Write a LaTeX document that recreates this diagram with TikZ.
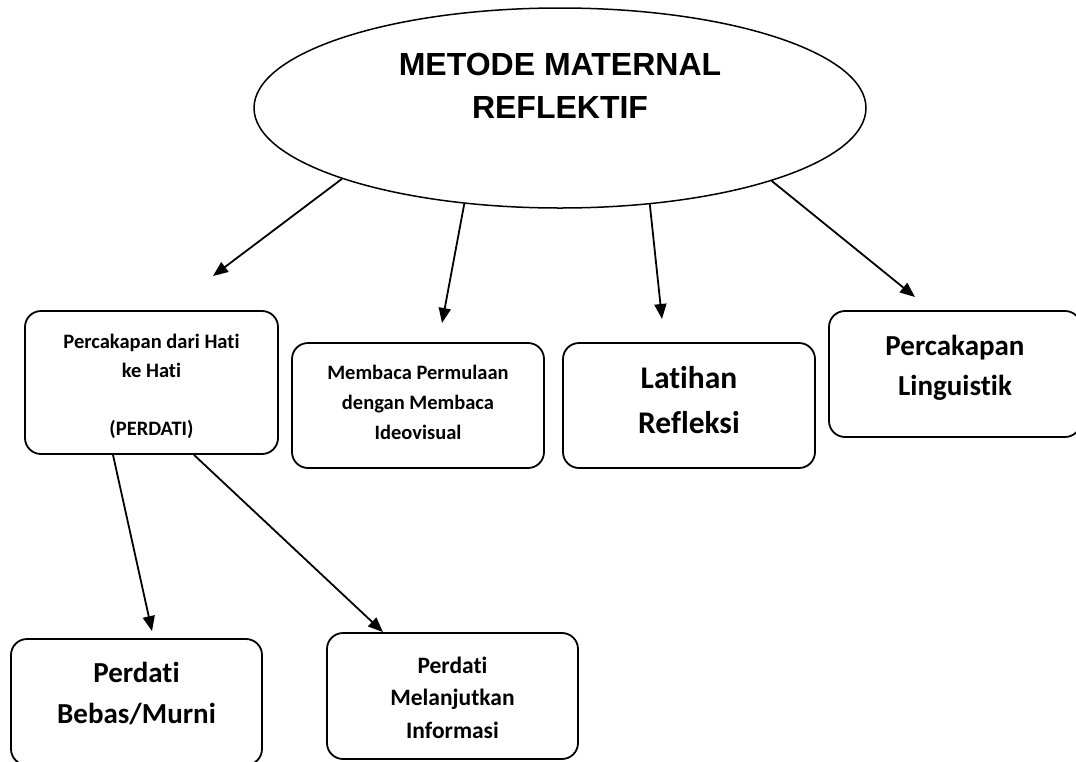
\documentclass[tikz,border=0pt]{standalone}
\usepackage{fontspec}
\setmainfont{Carlito}[Ligatures={TeX,NoCommon}]
\newfontfamily\arialfont{Liberation Sans}
\usetikzlibrary{shapes.geometric,arrows.meta,calc}
\newcommand{\botstrut}[1]{\rule[-#1]{0pt}{0pt}}
\newcommand{\topstrut}[1]{\rule{0pt}{#1}}
\begin{document}
\begin{tikzpicture}[x=1pt,y=-1pt,
  box/.style={draw, line width=1.8pt, rounded corners=16pt, align=center, inner sep=0pt},
  arr/.style={line width=1.8pt, -{Triangle[length=15pt,width=12pt]}}]
\useasboundingbox (0,0) rectangle (1076,761);
% central ellipse
\node[ellipse, draw, line width=1.5pt, minimum width=612pt, minimum height=200pt, inner sep=0pt] (mm) at (560,108) {};
\node[font=\arialfont\bfseries\fontsize{32}{43}\selectfont, align=center, inner sep=0pt] (mmt) at (560,86) {\topstrut{29pt}METODE MATERNAL\\REFLEKTIF\botstrut{8pt}};
% boxes
\node[box, minimum width=253pt, minimum height=143pt, font=\bfseries\fontsize{20.5}{29}\selectfont] (b1) at (151.5,382.5) {\topstrut{28pt}Percakapan dari Hati\\ke Hati\\[29pt](PERDATI)\botstrut{10pt}};
\node[box, minimum width=252pt, minimum height=125pt, font=\bfseries\fontsize{20.5}{30}\selectfont] (b2) at (418,405.5) {\topstrut{17pt}Membaca Permulaan\\dengan Membaca\\Ideovisual\botstrut{10pt}};
\node[box, minimum width=252pt, minimum height=125pt, font=\bfseries\fontsize{31.5}{45}\selectfont] (b3) at (689,405.5) {\topstrut{24pt}Latihan\\Refleksi\botstrut{14pt}};
\node[box, minimum width=252pt, minimum height=126pt, font=\bfseries\fontsize{29}{40}\selectfont] (b4) at (955,374) {\topstrut{26pt}Percakapan\\Linguistik\botstrut{24pt}};
\node[box, minimum width=251pt, minimum height=126pt, font=\bfseries\fontsize{29}{41}\selectfont] (b5) at (136.5,702) {\topstrut{25pt}Perdati\\Bebas/Murni\botstrut{24pt}};
\node[box, minimum width=251pt, minimum height=126pt, font=\bfseries\fontsize{23.5}{32.5}\selectfont] (b6) at (452.5,696) {\topstrut{29pt}Perdati\\Melanjutkan\\Informasi\botstrut{10pt}};
% free arrow ends
\coordinate (t1) at (213,276);
\coordinate (t2) at (442,323);
\coordinate (t3) at (662,319);
\coordinate (t4) at (915,297);
\coordinate (t5) at ([xshift=15.5pt,yshift=7pt]b5.north);
% connectors
\draw[arr] (mm.198.7) -- (t1);
\draw[arr] (mm.225) -- (t2);
\draw[arr] (mm.313.8) -- (t3);
\draw[arr] (mm.341.6) -- (t4);
\draw[arr] ([xshift=-38.5pt]b1.south) -- (t5);
\draw[arr] ([xshift=42.5pt]b1.south) -- ([xshift=-69.5pt]b6.north);
\end{tikzpicture}
\end{document}
